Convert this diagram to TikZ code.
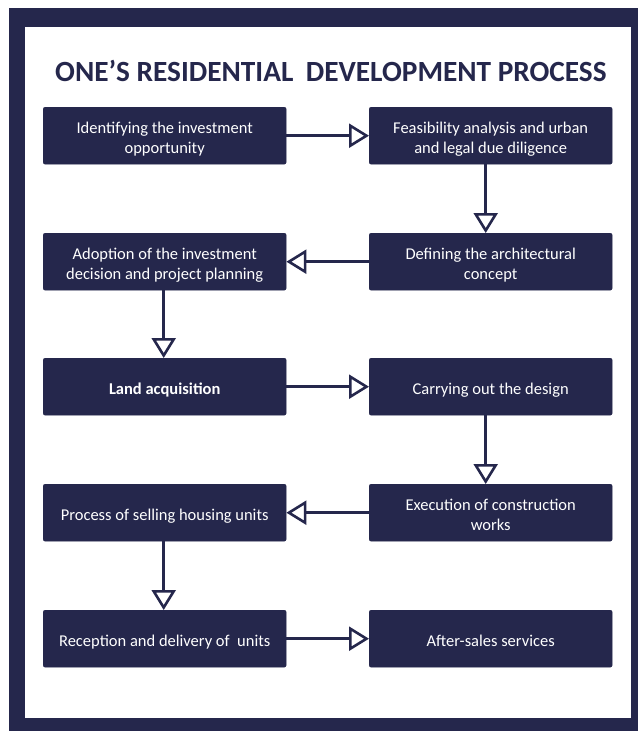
\documentclass[tikz,border=0pt]{standalone}
\usepackage{fontspec}
\setmainfont{Carlito}
\usetikzlibrary{arrows.meta}
\definecolor{navy}{RGB}{37,39,76}
\newcommand\boxtxt[1]{\raisebox{-4pt}[\height][\depth]{\begin{tabular}{@{}c@{}}#1\end{tabular}}}
\tikzset{
  stepbox/.style={fill=navy, draw=navy, rounded corners=2pt, minimum width=243pt, minimum height=57pt, inner sep=0pt, text=white, font=\fontsize{16.5}{19.5}\selectfont, anchor=north west},
  flow/.style={draw=navy, line width=2.6pt, -{Triangle[open, length=20pt, width=24pt, line width=2.6pt]}}
}
\begin{document}
\begin{tikzpicture}[x=1pt,y=-1pt]
\useasboundingbox (0,0) rectangle (638,731);
\fill[navy] (9,8) rectangle (638,731);
\fill[white] (25,27) rectangle (631,718);
\node[anchor=base west, inner sep=0pt, text=navy, font=\fontsize{29.3}{33}\selectfont\bfseries] (title) at (55,81) {ONE’S RESIDENTIAL\hspace{0.2em} DEVELOPMENT PROCESS};
% left column x=43, right column x=369
\node[stepbox] (b1) at (43,107) {\boxtxt{Identifying the investment\\opportunity}};
\node[stepbox] (b2) at (369,107) {\boxtxt{Feasibility analysis and urban\\and legal due diligence}};
\node[stepbox] (b3) at (369,233) {\boxtxt{Defining the architectural\\concept}};
\node[stepbox] (b4) at (43,233) {\boxtxt{Adoption of the investment\\decision and project planning}};
\node[stepbox, font=\fontsize{16.5}{19.5}\selectfont\bfseries] (b5) at (43,358) {\boxtxt{Land acquisition}};
\node[stepbox] (b6) at (369,358) {\boxtxt{Carrying out the design}};
\node[stepbox] (b7) at (369,484) {\boxtxt{Execution of construction\\works}};
\node[stepbox] (b8) at (43,484) {\boxtxt{Process of selling housing units}};
\node[stepbox] (b9) at (43,610) {\boxtxt{Reception and delivery of\ \ units}};
\node[stepbox] (b10) at (369,610) {\boxtxt{After-sales services}};
\draw[flow] (b1.east) -- (b2.west);
\draw[flow] ([xshift=-5pt]b2.south) -- ([xshift=-5pt]b3.north);
\draw[flow] (b3.west) -- (b4.east);
\draw[flow] ([xshift=-1pt]b4.south) -- ([xshift=-1pt]b5.north);
\draw[flow] (b5.east) -- (b6.west);
\draw[flow] ([xshift=-5pt]b6.south) -- ([xshift=-5pt]b7.north);
\draw[flow] (b7.west) -- (b8.east);
\draw[flow] ([xshift=-1pt]b8.south) -- ([xshift=-1pt]b9.north);
\draw[flow] (b9.east) -- (b10.west);
\end{tikzpicture}
\end{document}
